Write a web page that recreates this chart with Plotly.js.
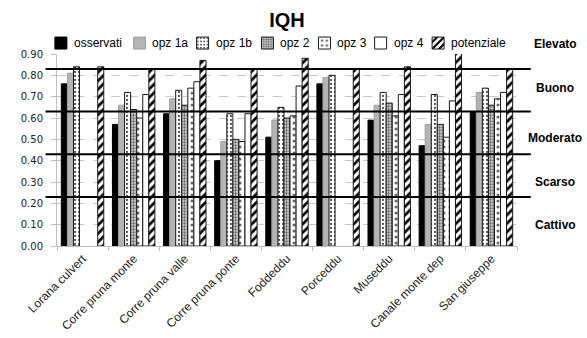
<!DOCTYPE html>
<html>
<head>
<meta charset="utf-8">
<script src="https://cdn.plot.ly/plotly-3.0.1.min.js"></script>
<style>
  html, body { margin: 0; padding: 0; background: #fff; }
  #chart { width: 587px; height: 338px; }
</style>
</head>
<body>
<div id="chart"></div>
<script>
// IQH per sito: stato osservato, opzioni di intervento e potenziale
const categories = ["Lorana culvert", "Corre pruna monte", "Corre pruna valle", "Corre pruna ponte",
  "Foddeddu", "Porceddu", "Museddu", "Canale monte dep", "San giuseppe"];
const osservati  = [0.76, 0.57, 0.62, 0.40, 0.51, 0.76, 0.59, 0.47, 0.63];
const opz1a      = [0.81, 0.66, 0.69, 0.49, 0.59, 0.79, 0.66, 0.57, 0.72];
const opz1b      = [0.84, 0.72, 0.73, 0.62, 0.65, 0.80, 0.72, 0.71, 0.74];
const opz2       = [null, 0.64, 0.66, 0.50, 0.60, null, 0.67, 0.57, 0.66];
const opz3       = [null, 0.60, 0.74, 0.49, 0.61, null, 0.61, 0.51, 0.69];
const opz4       = [null, 0.71, 0.77, 0.62, 0.75, null, 0.71, 0.68, 0.72];
const potenziale = [0.84, 0.83, 0.87, 0.83, 0.88, 0.83, 0.84, 0.91, 0.83];
const nomi = ["osservati", "opz 1a", "opz 1b", "opz 2", "opz 3", "opz 4", "potenziale"];

// Soglie tra le classi di qualità
const soglie = [0.83, 0.63, 0.43, 0.23];
const classi = ["Elevato", "Buono", "Moderato", "Scarso", "Cattivo"];
const classiY = [1.052, 0.824, 0.564, 0.331, 0.107];

// Legenda su una riga: posizione del simbolo e dell'etichetta di ogni voce
// (frazioni della larghezza dell'area del grafico)
const legendaSimboloX = [-0.035, 0.136, 0.273, 0.414, 0.538, 0.660, 0.785];
const legendaTestoX   = [0.0335, 0.203, 0.341, 0.481, 0.604, 0.728, 0.852];
const legendaY = 1.057;

const edge = {color: "#1a1a1a", width: 1};
const markers = [
  {color: "#000000", line: {color: "#000000", width: 1}},
  {color: "#b4b4b4", line: {color: "#a0a0a0", width: 1}},
  {color: "#ffffff", line: edge,
    pattern: {shape: ".", fgcolor: "#555", bgcolor: "#ffffff", size: 4, solidity: 0.25}},
  {color: "#999999", line: edge,
    pattern: {shape: ".", fgcolor: "#666", bgcolor: "#cfcfcf", size: 3, solidity: 0.45}},
  {color: "#ffffff", line: edge,
    pattern: {shape: ".", fgcolor: "#666", bgcolor: "#ffffff", size: 6, solidity: 0.2}},
  {color: "#ffffff", line: edge},
  {color: "#ffffff", line: edge,
    pattern: {shape: "/", fgcolor: "#000", bgcolor: "#ffffff", size: 6, solidity: 0.45}}
];
const valori = [osservati, opz1a, opz1b, opz2, opz3, opz4, potenziale];
const legendId = i => (i === 0 ? "legend" : "legend" + (i + 1));

const font = {family: "Liberation Sans, Arial, sans-serif", size: 12, color: "#000"};

// Ogni serie ha una propria legenda (solo simbolo); l'etichetta è un'annotazione accanto
const data = valori.map((v, i) => ({
  type: "bar", name: "", x: categories, y: v, marker: markers[i],
  legend: legendId(i), hovertext: nomi[i]
}));

const layout = {
  width: 587, height: 338,
  margin: {l: 57, r: 70, t: 54, b: 92},
  paper_bgcolor: "#fff", plot_bgcolor: "#fff",
  title: {text: "<b>IQH</b>", x: 0.5, xref: "paper", y: 0.94, yanchor: "middle",
    font: {family: "Liberation Sans, Arial, sans-serif", size: 20, color: "#000"}},
  barmode: "group", bargap: 0.17, bargroupgap: 0,
  showlegend: true,
  xaxis: {type: "category", tickangle: -45, showgrid: false,
    showline: true, linecolor: "#bfbfbf", linewidth: 1,
    ticks: "outside", tickson: "boundaries", ticklen: 4, tickcolor: "#bfbfbf",
    tickfont: {family: "Liberation Sans, Arial, sans-serif", size: 12, color: "#222"}},
  yaxis: {range: [0, 0.9], dtick: 0.1, tickformat: ".2f",
    showgrid: true, gridcolor: "#c8c8c8", griddash: "dash", gridwidth: 1,
    showline: true, linecolor: "#bfbfbf", linewidth: 1, zeroline: false,
    ticks: "outside", ticklen: 5, tickcolor: "#bfbfbf", ticklabelstandoff: 6,
    tickfont: {family: "DejaVu Sans, Verdana, sans-serif", size: 10, color: "#222"}},
  shapes: soglie.map(v => ({
    type: "line", xref: "paper", yref: "y", x0: -0.025, x1: 1.03, y0: v, y1: v,
    line: {color: "#000", width: 2}, layer: "above"
  })),
  annotations: classi.map((t, i) => ({
    text: "<b>" + t + "</b>", xref: "paper", yref: "paper", x: 1.083, y: classiY[i],
    xanchor: "center", yanchor: "middle", showarrow: false, font: font
  })).concat(nomi.map((n, i) => ({
    text: n, xref: "paper", yref: "paper", x: legendaTestoX[i], y: legendaY,
    xanchor: "left", yanchor: "middle", showarrow: false, font: font
  })))
};

legendaSimboloX.forEach((x, i) => {
  layout[legendId(i)] = {
    orientation: "h", x: x, xanchor: "left", y: legendaY, yanchor: "middle",
    font: font, itemwidth: 30, bgcolor: "rgba(0,0,0,0)", borderwidth: 0
  };
});

Plotly.newPlot("chart", data, layout, {displayModeBar: false, staticPlot: true});
</script>
</body>
</html>
